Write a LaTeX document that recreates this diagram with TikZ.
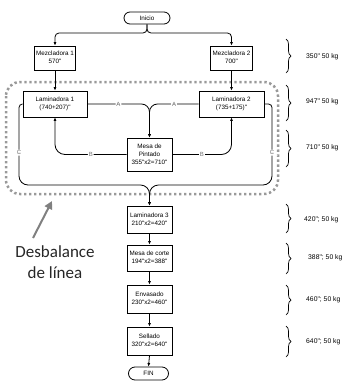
\documentclass[tikz,border=0pt]{standalone}
\usepackage{fontspec}
\setmainfont{Liberation Sans}[Ligatures=TeXOff]
\newfontfamily\calib{Carlito}
\usetikzlibrary{arrows.meta,decorations.pathreplacing,shapes.misc}
\newcommand\boxlines[1]{\begin{tabular}{@{}c@{}}#1\end{tabular}}
\begin{document}
\begin{tikzpicture}[x=1pt,y=-1pt,
 box/.style={draw, line width=0.8pt, fill=white, font=\fontsize{6.3}{8}\selectfont, inner sep=0pt},
 term/.style={draw, line width=0.8pt, rounded rectangle, fill=white, font=\fontsize{6.3}{8}\selectfont, inner sep=0pt},
 con/.style={line width=0.8pt, -{Latex[length=3.5pt,width=3pt]}},
 lab/.style={font=\fontsize{6}{6}\selectfont, text=black!55, fill=white, inner sep=0.8pt},
 brc/.style={decorate, decoration={brace, amplitude=5pt}, line width=0.7pt},
 side/.style={font=\fontsize{6.8}{8}\selectfont, anchor=west, inner sep=0pt},
]
\useasboundingbox (0,0) rectangle (342,381);
% unbalanced-line frame
\draw[gray!80, line width=2.5pt, dash pattern=on 2.4pt off 2.6pt, rounded corners=14pt] (6,82) rectangle (278,194);

% nodes
\node[term, minimum width=46, minimum height=12] (ini) at (147,18) {Inicio};
\node[box, minimum width=41, minimum height=24] (m1) at (55,58) {\boxlines{Mezcladora 1\\570"}};
\node[box, minimum width=42, minimum height=24] (m2) at (231.5,58) {\boxlines{Mezcladora 2\\700"}};
\node[box, minimum width=64, minimum height=26] (l1) at (55,104) {\boxlines{Laminadora 1\\(740+207)"}};
\node[box, minimum width=65, minimum height=26] (l2) at (231.5,104) {\boxlines{Laminadora 2\\(735+175)"}};
\node[box, minimum width=45, minimum height=33] (mp) at (149.5,154.5) {\boxlines{Mesa de\\Pintado\\355"x2=710"}};
\node[box, minimum width=45, minimum height=27] (l3) at (149.5,219.5) {\boxlines{Laminadora 3\\210"x2=420"}};
\node[box, minimum width=45, minimum height=26] (mc) at (149.5,258) {\boxlines{Mesa de corte\\194"x2=388"}};
\node[box, minimum width=45, minimum height=28] (env) at (149.5,299) {\boxlines{Envasado\\230"x2=460"}};
\node[box, minimum width=45, minimum height=28] (sel) at (149.5,341) {\boxlines{Sellado\\320"x2=640"}};
\node[term, minimum width=40, minimum height=13] (fin) at (148.5,373.5) {FIN};

% connectors
\draw[con, rounded corners=4pt] (ini.south) -- (147,33) -| (m1.north);
\draw[con, rounded corners=4pt] (ini.south) -- (147,33) -| (m2.north);
\draw[con] (m1.south) -- (l1.north);
\draw[con] (m2.south) -- (l2.north);
\draw[con, rounded corners=8pt] (l1.east) -- node[lab]{A} (149.5,104) -- (mp.north);
\draw[con, rounded corners=8pt] (l2.west) -- node[lab]{A} (149.5,104) -- (mp.north);
\draw[con, rounded corners=10pt] (mp.west) -- node[lab]{B} (55,154.5) -- (l1.south);
\draw[con, rounded corners=10pt] (mp.east) -- node[lab]{B} (231.5,154.5) -- (l2.south);
\draw[con] (l1.west) [rounded corners=3.5pt] -- (19,104) [rounded corners=9pt] -- node[lab,pos=0.6]{C} (19,185) -- (149.5,185) -- (l3.north);
\draw[con] (l2.east) [rounded corners=3.5pt] -- (272,104) [rounded corners=9pt] -- node[lab,pos=0.6]{C} (272,185) -- (149.5,185) -- (l3.north);
\draw[con] (l3.south) -- (mc.north);
\draw[con] (mc.south) -- (env.north);
\draw[con] (env.south) -- (sel.north);
\draw[con] (sel.south) -- (fin.north);

% braces and side notes
\draw[brc] (286,39) -- (286,73);
\node[side] (t1) at (306,57) {350" 50 kg};
\draw[brc] (286,85) -- (286,121);
\node[side] (t2) at (306,102) {947" 50 kg};
\draw[brc] (286,130) -- (286,167);
\node[side] (t3) at (306,148) {710" 50 kg};
\draw[brc] (286,204) -- (286,233);
\node[side] (t4) at (304,220) {420"; 50 kg};
\draw[brc] (286,243) -- (286,274);
\node[side] (t5) at (308,258) {388"; 50 kg};
\draw[brc] (286,285) -- (286,315);
\node[side] (t6) at (306,300) {460"; 50 kg};
\draw[brc] (286,326) -- (286,357);
\node[side] (t7) at (306,342) {640"; 50 kg};

% annotation
\coordinate (gt) at (33,238);
\coordinate (gh) at (52,201);
\draw[gray, line width=2pt, -{Triangle[length=8pt,width=8pt]}] (gt) -- (gh);
\node[font=\calib\fontsize{17}{20.5}\selectfont, align=center, inner sep=0pt, text=black!85] (des) at (55,262) {Desbalance\\de línea};
\end{tikzpicture}
\end{document}
